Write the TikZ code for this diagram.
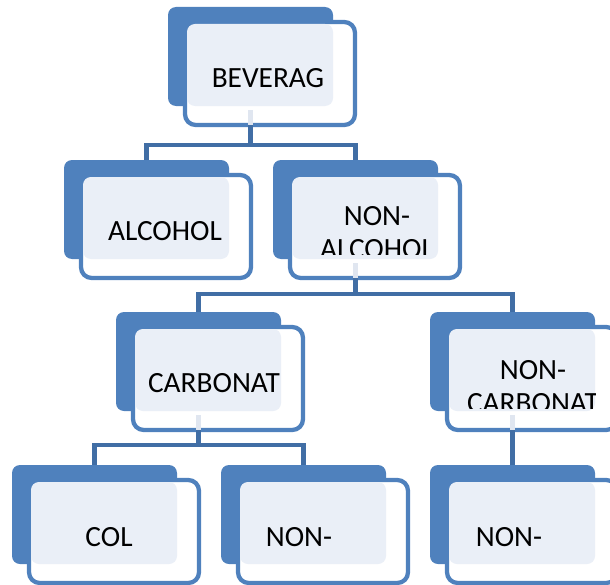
\documentclass[tikz,border=0pt]{standalone}
\usepackage{fontspec}
\setmainfont{Carlito}
\usetikzlibrary{calc}
\definecolor{azulSA}{RGB}{79,129,189}
\definecolor{azulLinea}{RGB}{65,110,165}
\definecolor{claro}{RGB}{234,239,247}
\definecolor{grisClaro}{RGB}{224,230,240}

\begin{document}
\begin{tikzpicture}[x=0.75pt,y=-0.75pt,
    fondo/.style={fill=azulSA,rounded corners=6pt,anchor=north west,inner sep=0pt,outer sep=0pt,minimum width=123.75pt,minimum height=74.25pt},
    marco/.style={draw=azulSA,line width=3.2pt,fill=white,rounded corners=8pt,anchor=north west,inner sep=0pt,outer sep=0pt,minimum width=127.5pt,minimum height=77.25pt},
    rotulo/.style={font=\fontsize{22}{26}\selectfont,inner sep=0pt},
    enlace/.style={draw=azulLinea,line width=3.4pt},
    tenue/.style={draw=grisClaro,line width=3.5pt}]
        \clip (0,0) rectangle (610,585);
        % cajas: fondo azul, marco delante y zona clara
        \foreach \n/\x/\y in {bev/168/7,alc/64/160,nal/273/160,car/116/312,nca/430/312,col/12/465,ncl/221/465,nnc/430/465}{
          \node[fondo] (\n B) at (\x,\y) {};
          \node[marco] (\n F) at (\x+17,\y+15) {};
          \fill[claro,rounded corners=6pt] ($(\n F.north west)+(2,2)$) rectangle (\n B.south east);
        }
        % textos
        \node[rotulo] (bevT) at ($(bevB.north west)+(100,71)$) {BEVERAG};
        \node[rotulo] (alcT) at ($(alcB.north west)+(101,71)$) {ALCOHOL};
        \node[rotulo] (carT) at ($(carB.north west)+(98,71)$) {CARBONAT};
        \node[rotulo] (colT) at ($(colB.north west)+(97,72)$) {COL};
        \node[rotulo] (nclT) at ($(nclB.north west)+(78,72)$) {NON-};
        \node[rotulo] (nncT) at ($(nncB.north west)+(79,72)$) {NON-};
        \begin{scope}
          \clip ($(nalF.north west)+(2,2)$) rectangle ($(nalB.south east)+(0,-5)$);
          \node[rotulo] (nalT) at ($(nalB.north west)+(104,56)$) {NON-};
          \node[rotulo] (nalU) at ($(nalB.north west)+(104,89)$) {ALCOHOL};
        \end{scope}
        \begin{scope}
          \clip ($(ncaF.north west)+(2,2)$) rectangle ($(ncaB.south east)+(0,-3)$);
          \node[rotulo] (ncaT) at ($(ncaB.north west)+(103,58)$) {NON-};
          \node[rotulo] (ncaU) at ($(ncaB.north west)+(103,91)$) {CARBONAT};
        \end{scope}
        % enlaces
        \foreach \p in {bev,nal,car,nca}
          \draw[tenue] ($(\p B.south)+(0,4)$) -- (\p B.south |- \p F.south);
        \draw[enlace] (bevB.south |- bevF.south) -- ++(0,20) -| (alcB.north);
        \draw[enlace] (bevB.south |- bevF.south) -- ++(0,20) -| (nalB.north);
        \draw[enlace] (nalB.south |- nalF.south) -- ++(0,16) -| (carB.north);
        \draw[enlace] (nalB.south |- nalF.south) -- ++(0,16) -| (ncaB.north);
        \draw[enlace] (carB.south |- carF.south) -- ++(0,15) -| (colB.north);
        \draw[enlace] (carB.south |- carF.south) -- ++(0,15) -| (nclB.north);
        \draw[enlace] (ncaB.south |- ncaF.south) -- (nncB.north);
      \end{tikzpicture}
\end{document}
